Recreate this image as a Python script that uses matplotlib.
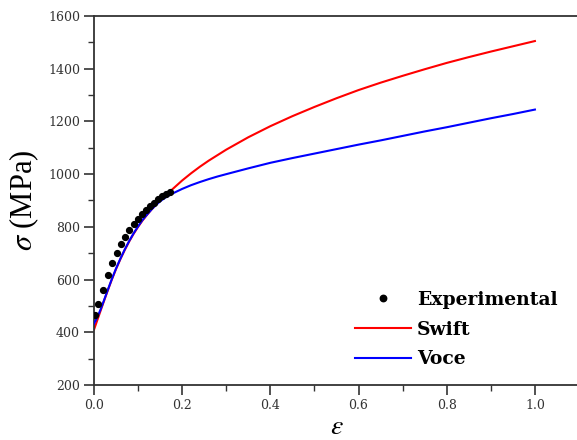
import matplotlib
matplotlib.use("Agg")
import matplotlib.pyplot as plt
from matplotlib.ticker import MultipleLocator, FormatStrFormatter

# Experimental flow-curve points (true strain, true stress in MPa)
exp_strain = [0.002, 0.0098, 0.021, 0.032, 0.0415, 0.0515, 0.061, 0.070, 0.080, 0.090,
              0.0998, 0.1095, 0.1186, 0.1277, 0.136, 0.145, 0.154, 0.163, 0.172]
exp_stress = [464, 506, 562, 618, 663, 701, 734, 763, 789, 811,
              829, 847, 863, 879, 891, 904, 916, 926, 934]

# Fitted hardening curves (Swift and Voce), tabulated over strain
fit_strain = [0.0, 0.005, 0.01, 0.015, 0.02,
              0.03, 0.04, 0.05, 0.06, 0.07, 0.08, 0.09, 0.10, 0.11, 0.12,
              0.13, 0.14, 0.15, 0.16, 0.17, 0.18, 0.19, 0.20,
              0.22, 0.24, 0.26, 0.28, 0.30,
              0.35, 0.40, 0.45, 0.50, 0.55, 0.60, 0.65, 0.70,
              0.75, 0.80, 0.85, 0.90, 0.95, 1.00]
swift_stress = [410, 434, 458, 482, 506,
                553, 598, 640, 678, 713, 745, 774, 800, 824, 845,
                865, 883, 900, 916, 931, 946, 961, 976,
                1003, 1028, 1051, 1072, 1093,
                1140, 1182, 1220, 1255, 1288, 1319, 1347, 1373,
                1398, 1422, 1444, 1465, 1485, 1505]
voce_stress = [433, 449, 467, 487, 509,
               555, 600, 642, 680, 715, 747, 776, 802, 826, 846,
               865, 882, 897, 909, 919, 928, 936, 944,
               958, 970, 981, 991, 1000,
               1022, 1043, 1061, 1078, 1095, 1112, 1128, 1145,
               1162, 1178, 1195, 1212, 1228, 1245]

x_ticks = [0.0, 0.2, 0.4, 0.6, 0.8, 1.0]
y_ticks = [200, 400, 600, 800, 1000, 1200, 1400, 1600]

plt.rcParams["font.family"] = ["DejaVu Serif"]
plt.rcParams["mathtext.fontset"] = "stix"

fig = plt.figure(figsize=(5.77, 4.40), dpi=100)
ax = fig.add_axes([94 / 577, 1 - 385 / 440, (579 - 94) / 577, (385 - 16) / 440])

ax.plot(fit_strain, swift_stress, color="#ff0000", lw=1.5, label="Swift", zorder=2)
ax.plot(fit_strain, voce_stress, color="#0000ff", lw=1.5, label="Voce", zorder=3)
ax.plot(exp_strain, exp_stress, "o", color="black", ms=4.2, label="Experimental",
        zorder=4, linestyle="none")

ax.set_xlim(0, 1.1)
ax.set_ylim(200, 1600)
ax.set_xticks(x_ticks)
ax.set_yticks(y_ticks)
ax.xaxis.set_minor_locator(MultipleLocator(0.1))
ax.yaxis.set_minor_locator(MultipleLocator(100))
ax.xaxis.set_major_formatter(FormatStrFormatter("%.1f"))

spine_c = "#333333"
for side in ["left", "bottom", "top"]:
    ax.spines[side].set_color(spine_c)
    ax.spines[side].set_linewidth(1.3)
ax.spines["right"].set_visible(False)

ax.tick_params(which="major", direction="out", length=7, width=1.2, color=spine_c,
               labelsize=9, labelcolor="#333333", pad=3)
ax.tick_params(which="minor", direction="out", length=4, width=1.0, color=spine_c)
ax.tick_params(top=False, right=False, which="both")

ax.set_xlabel(r"$\varepsilon$", fontsize=20, labelpad=1)
ax.set_ylabel(r"$\sigma$ (MPa)", fontsize=22, labelpad=5)
ax.yaxis.label.set_family(["Liberation Serif"])

handles, labels = ax.get_legend_handles_labels()
order = [2, 0, 1]
leg = ax.legend([handles[i] for i in order], [labels[i] for i in order],
                loc="upper left", bbox_to_anchor=(355 / 577, 1 - 291 / 440),
                bbox_transform=fig.transFigure, frameon=False,
                borderpad=0, borderaxespad=0,
                prop={"family": "DejaVu Serif", "weight": "bold", "size": 13.5},
                handlelength=3.0, handletextpad=0.3, labelspacing=0.62, markerscale=1.1)

fig.savefig("out.png", dpi=100)
